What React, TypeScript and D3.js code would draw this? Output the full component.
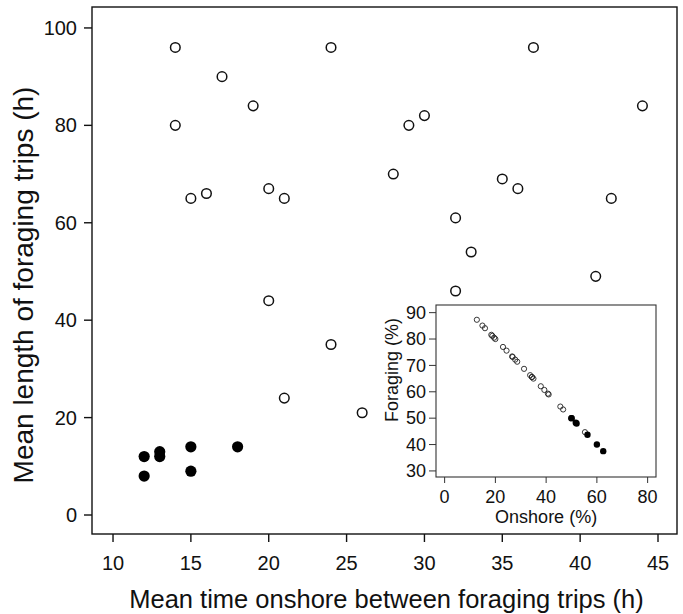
import React from "react";
import * as d3 from "d3";

// main panel: mean time onshore (h) vs mean trip length (h)
const onshoreOpen = [14, 14, 17, 19, 15, 16, 20, 21, 20, 24, 24, 21, 26, 28, 29, 30, 35, 36, 37, 32, 33, 32, 41, 42, 44];
const lengthOpen = [96, 80, 90, 84, 65, 66, 67, 65, 44, 96, 35, 24, 21, 70, 80, 82, 69, 67, 96, 61, 54, 46, 49, 65, 84];
const onshoreFilled = [12, 12, 13, 13, 15, 15, 18];
const lengthFilled = [12, 8, 13, 12, 14, 9, 14];

// inset: onshore (%) vs foraging (%)
const insetOnshoreOpen = [12.7, 14.9, 15.9, 18.4, 18.8, 19.5, 23.0, 24.4, 20.0, 40.7, 31.3, 46.7, 55.3, 28.6, 26.6, 26.8, 33.7, 35.0, 27.8, 34.4, 37.9, 41.0, 45.6, 39.3, 34.4];
const insetForagingOpen = [87.3, 85.1, 84.1, 81.6, 81.2, 80.5, 77.0, 75.6, 80.0, 59.3, 68.7, 53.3, 44.7, 71.4, 73.4, 73.2, 66.3, 65.0, 72.2, 65.6, 62.1, 59.0, 54.4, 60.7, 65.6];
const insetOnshoreFilled = [50.0, 60.0, 50.0, 52.0, 51.7, 62.5, 56.3];
const insetForagingFilled = [50.0, 40.0, 50.0, 48.0, 48.3, 37.5, 43.7];

const xTicks = [10, 15, 20, 25, 30, 35, 40, 45];
const yTicks = [0, 20, 40, 60, 80, 100];
const insetXTicks = [0, 20, 40, 60, 80];
const insetYTicks = [30, 40, 50, 60, 70, 80, 90];

const W = 683;
const H = 614;
const font = "'Liberation Sans', Arial, Helvetica, sans-serif";

export default function App() {
  // main frame
  const left = 92, right = 677, top = 7, bottom = 534;
  const x = d3.scaleLinear().domain([8.65, 46.22]).range([left, right]);
  const y = d3.scaleLinear().domain([-3.9, 104.3]).range([bottom, top]);

  // inset frame
  const iL = 436, iR = 656, iT = 305, iB = 477;
  const ix = d3.scaleLinear().domain([-3.4, 83.3]).range([iL, iR]);
  const iy = d3.scaleLinear().domain([27.7, 92.9]).range([iB, iT]);

  return (
    <svg
      width={W}
      height={H}
      style={{ position: "absolute", left: 0, top: 0, background: "#fff" }}
      fontFamily={font}
    >
      <rect x={0} y={0} width={W} height={H} fill="#fff" />

      {/* main axes */}
      <rect x={left} y={top} width={right - left} height={bottom - top} fill="none" stroke="#111" strokeWidth={1.4} />
      {xTicks.map((t) => (
        <g key={"xt" + t}>
          <line x1={x(t)} x2={x(t)} y1={bottom} y2={bottom + 8} stroke="#111" strokeWidth={1.4} />
          <text x={x(t)} y={570} textAnchor="middle" fontSize={20} fill="#111">
            {t}
          </text>
        </g>
      ))}
      {yTicks.map((t) => (
        <g key={"yt" + t}>
          <line x1={left - 8} x2={left} y1={y(t)} y2={y(t)} stroke="#111" strokeWidth={1.4} />
          <text x={77} y={y(t)} dy="0.35em" textAnchor="end" fontSize={20} fill="#111">
            {t}
          </text>
        </g>
      ))}
      <text x={(left + right) / 2 + 2} y={608} textAnchor="middle" fontSize={25.5} fill="#111">
        Mean time onshore between foraging trips (h)
      </text>
      <text
        transform={`translate(33,${285}) rotate(-90)`}
        textAnchor="middle"
        fontSize={28}
        fill="#111"
      >
        Mean length of foraging trips (h)
      </text>

      {/* main points */}
      {onshoreOpen.map((d, i) => (
        <circle key={"o" + i} cx={x(d)} cy={y(lengthOpen[i])} r={4.8} fill="#fff" stroke="#111" strokeWidth={1.5} />
      ))}
      {onshoreFilled.map((d, i) => (
        <circle key={"f" + i} cx={x(d)} cy={y(lengthFilled[i])} r={5.6} fill="#000" />
      ))}

      {/* inset */}
      <rect x={iL} y={iT} width={iR - iL} height={iB - iT} fill="#fff" stroke="#333" strokeWidth={1.1} />
      {insetXTicks.map((t) => (
        <g key={"ixt" + t}>
          <line x1={ix(t)} x2={ix(t)} y1={iB} y2={iB + 6} stroke="#333" strokeWidth={1} />
          <text x={ix(t)} y={503} textAnchor="middle" fontSize={18} fill="#111">
            {t}
          </text>
        </g>
      ))}
      {insetYTicks.map((t) => (
        <g key={"iyt" + t}>
          <line x1={iL - 7} x2={iL} y1={iy(t)} y2={iy(t)} stroke="#333" strokeWidth={1} />
          <text x={iL - 10} y={iy(t)} dy="0.35em" textAnchor="end" fontSize={18} fill="#111">
            {t}
          </text>
        </g>
      ))}
      <text x={(ix(0) + ix(80)) / 2} y={523} textAnchor="middle" fontSize={18} fill="#111">
        Onshore (%)
      </text>
      <text transform={`translate(398,${370}) rotate(-90)`} textAnchor="middle" fontSize={18} fill="#111">
        Foraging (%)
      </text>
      {insetOnshoreOpen.map((d, i) => (
        <circle key={"io" + i} cx={ix(d)} cy={iy(insetForagingOpen[i])} r={2.6} fill="none" stroke="#222" strokeWidth={0.9} />
      ))}
      {insetOnshoreFilled.map((d, i) => (
        <circle key={"if" + i} cx={ix(d)} cy={iy(insetForagingFilled[i])} r={3.2} fill="#000" />
      ))}
    </svg>
  );
}
